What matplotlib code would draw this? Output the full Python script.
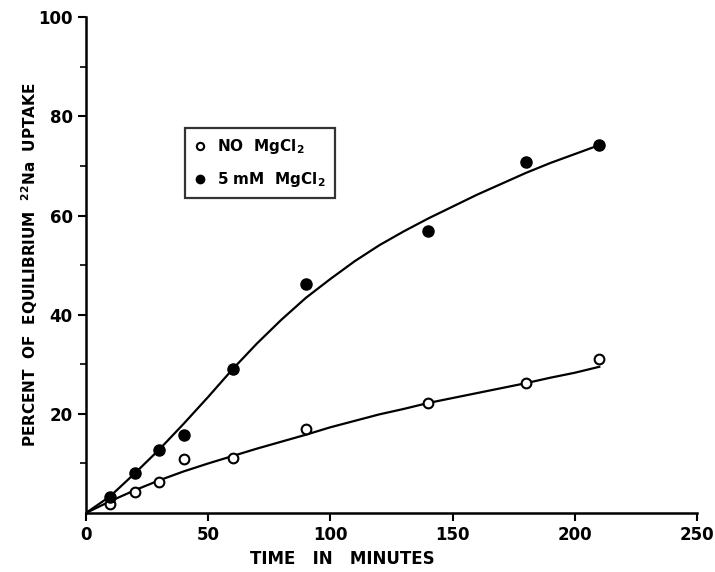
import matplotlib
matplotlib.use("Agg")
import matplotlib.pyplot as plt
import numpy as np

# measured points
time_pts = [10, 20, 30, 40, 60, 90, 140, 180, 210]
no_mg = [1.8, 4.3, 6.3, 10.9, 11.2, 17.0, 22.1, 26.3, 31.0]
mg_5mm = [3.2, 8.1, 12.8, 15.8, 29.0, 46.2, 56.9, 70.7, 74.2]

# hand drawn fitted curves, every 10 min
curve_t = [0, 10, 20, 30, 40, 50, 60, 70, 80, 90, 100, 110,
           120, 130, 140, 150, 160, 170, 180, 190, 200, 210]
curve_no_mg = [0, 2.4, 4.6, 6.6, 8.4, 10.0, 11.5, 13.0, 14.4, 15.8, 17.3, 18.6,
               19.9, 21.0, 22.2, 23.2, 24.2, 25.2, 26.2, 27.3, 28.3, 29.5]
curve_mg = [0, 3.4, 8.0, 12.8, 18.0, 23.4, 29.0, 34.2, 39.0, 43.4, 47.2, 50.8,
            54.0, 56.8, 59.4, 61.8, 64.2, 66.4, 68.6, 70.6, 72.4, 74.2]

xticks = [0, 50, 100, 150, 200, 250]
yticks = [20, 40, 60, 80, 100]

plt.rcParams['font.family'] = 'DejaVu Sans'
plt.rcParams['font.weight'] = 'bold'

fig = plt.figure(figsize=(7.15, 5.72), dpi=100)
ax = fig.add_axes([0.120, 0.103, 0.855, 0.867])

ax.plot(curve_t, curve_mg, color='black', lw=1.6, zorder=2)
ax.plot(curve_t, curve_no_mg, color='black', lw=1.6, zorder=2)
ax.plot(time_pts, no_mg, 'o', ms=7, mfc='white', mec='black', mew=1.5,
        zorder=3, label='NO  MgCl$_\\mathbf{2}$')
ax.plot(time_pts, mg_5mm, 'o', ms=8, mfc='black', mec='black',
        zorder=3, label='5 mM  MgCl$_\\mathbf{2}$')

ax.set_xlim(0, 250)
ax.set_ylim(0, 100)
ax.set_xticks(xticks)
ax.set_yticks(yticks)
ax.set_yticks([10, 30, 50, 70, 90], minor=True)
ax.tick_params(axis='both', which='major', length=6, width=1.5,
               labelsize=12, direction='out')
ax.tick_params(axis='y', which='minor', length=4, width=1.2)

for side in ['top', 'right']:
    ax.spines[side].set_visible(False)
for side in ['left', 'bottom']:
    ax.spines[side].set_linewidth(1.8)

ax.set_xlabel('TIME   IN   MINUTES', fontsize=12, fontweight='bold')
ax.xaxis.set_label_coords(0.42, -0.075)
ax.set_ylabel('PERCENT  OF  EQUILIBRIUM  $^{\\mathbf{22}}$Na  UPTAKE',
              fontsize=11, fontweight='bold')
ax.yaxis.set_label_coords(-0.075, 0.5)

leg = ax.legend(loc='upper left', bbox_to_anchor=(0.162, 0.776),
                borderaxespad=0, fontsize=11, frameon=True, fancybox=False,
                handletextpad=0.7, borderpad=0.6, labelspacing=0.9,
                handlelength=0.8, markerscale=0.75)
leg.get_frame().set_edgecolor('black')
leg.get_frame().set_linewidth(1.6)

fig.savefig('out.png', dpi=100)
